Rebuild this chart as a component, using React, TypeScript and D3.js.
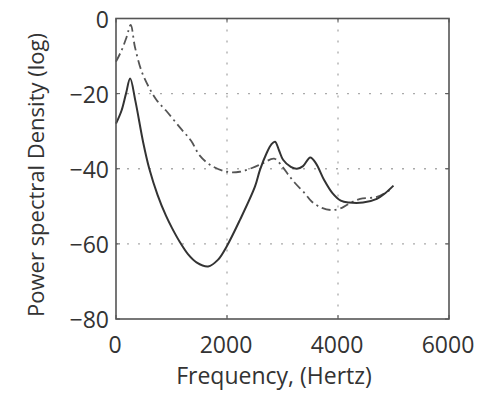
import React, { useEffect, useRef } from "react";
import * as d3 from "d3";

const solidFreq = [0, 100, 180, 255, 350, 490, 600, 750, 900, 1010, 1150, 1300, 1450, 1660, 1840, 1994, 2234, 2505, 2594, 2715, 2800, 2865, 2940, 3010, 3150, 3260, 3370, 3500, 3600, 3750, 3900, 4050, 4200, 4450, 4700, 4850, 5000];
const solidPsd = [-28, -24.5, -20, -16, -22, -33, -40, -47, -52.5, -55.8, -59.5, -62.8, -64.9, -66, -64.2, -60.7, -53.6, -44.7, -40.3, -35.8, -33.5, -32.8, -35.2, -37.6, -39.5, -40, -39.3, -37, -38.5, -43, -46.5, -48.5, -49, -49, -48, -46.5, -44.5];

const dashFreq = [0, 100, 190, 265, 340, 460, 600, 730, 900, 1150, 1350, 1510, 1700, 2000, 2230, 2450, 2650, 2850, 3000, 3100, 3225, 3400, 3530, 3710, 3900, 4070, 4200, 4400, 4700, 4940];
const dashPsd = [-11.5, -8.5, -5, -1.7, -7.5, -14, -18.5, -21.7, -24.5, -29, -32.5, -36.5, -39, -40.8, -40.8, -39.8, -38.5, -37.3, -39.5, -41.5, -43.8, -46.5, -48.8, -50.4, -51, -50.4, -49.3, -48, -47.5, -45.6];

const xTicks = [0, 2000, 4000, 6000];
const yTicks = [0, -20, -40, -60, -80];

const W = 487, H = 395;
const m = { left: 116, right: 449, top: 18.5, bottom: 319 };
const FONT = "'Open Sans', sans-serif";

export default function App() {
  const ref = useRef<SVGSVGElement>(null);
  useEffect(() => {
    const svg = d3.select(ref.current);
    svg.selectAll("*").remove();
    const x = d3.scaleLinear().domain([0, 6000]).range([m.left, m.right]);
    const y = d3.scaleLinear().domain([-80, 0]).range([m.bottom, m.top]);

    // grid
    const g = svg.append("g");
    [2000, 4000].forEach((v) => {
      g.append("line").attr("x1", x(v)).attr("x2", x(v)).attr("y1", m.top).attr("y2", m.bottom)
        .attr("stroke", "#aaa").attr("stroke-width", 1.3).attr("stroke-dasharray", "2,9");
    });
    [-20, -40, -60].forEach((v) => {
      g.append("line").attr("x1", m.left).attr("x2", m.right).attr("y1", y(v)).attr("y2", y(v))
        .attr("stroke", "#aaa").attr("stroke-width", 1.3).attr("stroke-dasharray", "2,9");
    });

    // lines
    const line = d3.line<[number, number]>().x((d) => x(d[0])).y((d) => y(d[1])).curve(d3.curveCatmullRom.alpha(0.5));
    const solid = solidFreq.map((f, i) => [f, solidPsd[i]] as [number, number]);
    const dash = dashFreq.map((f, i) => [f, dashPsd[i]] as [number, number]);
    svg.append("path").attr("d", line(dash)).attr("fill", "none").attr("stroke", "#555")
      .attr("stroke-width", 1.8).attr("stroke-dasharray", "9,4,2,4");
    svg.append("path").attr("d", line(solid)).attr("fill", "none").attr("stroke", "#333")
      .attr("stroke-width", 2);

    // frame
    svg.append("rect").attr("x", m.left).attr("y", m.top).attr("width", m.right - m.left).attr("height", m.bottom - m.top)
      .attr("fill", "none").attr("stroke", "#555").attr("stroke-width", 1.6);

    // ticks inward
    xTicks.forEach((v) => {
      svg.append("line").attr("x1", x(v)).attr("x2", x(v)).attr("y1", m.bottom).attr("y2", m.bottom - 4).attr("stroke", "#555");
      svg.append("line").attr("x1", x(v)).attr("x2", x(v)).attr("y1", m.top).attr("y2", m.top + 4).attr("stroke", "#555");
      svg.append("text").attr("x", x(v) - 1).attr("y", 353).attr("text-anchor", "middle")
        .attr("font-family", FONT).attr("font-size", 23).attr("fill", "#333").text(String(v));
    });
    yTicks.forEach((v) => {
      svg.append("line").attr("x1", m.left).attr("x2", m.left + 4).attr("y1", y(v)).attr("y2", y(v)).attr("stroke", "#555");
      svg.append("line").attr("x1", m.right).attr("x2", m.right - 4).attr("y1", y(v)).attr("y2", y(v)).attr("stroke", "#555");
      svg.append("text").attr("x", 109).attr("y", y(v) + 9).attr("text-anchor", "end")
        .attr("font-family", FONT).attr("font-size", 23).attr("fill", "#333").text(v < 0 ? "\u2212" + Math.abs(v) : String(v));
    });

    svg.append("text").attr("x", 274).attr("y", 384).attr("text-anchor", "middle")
      .attr("font-family", FONT).attr("font-size", 23).attr("fill", "#333").text("Frequency, (Hertz)");
    svg.append("text").attr("transform", `translate(44,175) rotate(-90)`).attr("text-anchor", "middle")
      .attr("font-family", FONT).attr("font-size", 22).attr("fill", "#333").text("Power spectral Density (log)");
  }, []);
  return (
    <svg ref={ref} width={W} height={H} style={{ position: "absolute", left: 0, top: 0, background: "#fff" }} />
  );
}
